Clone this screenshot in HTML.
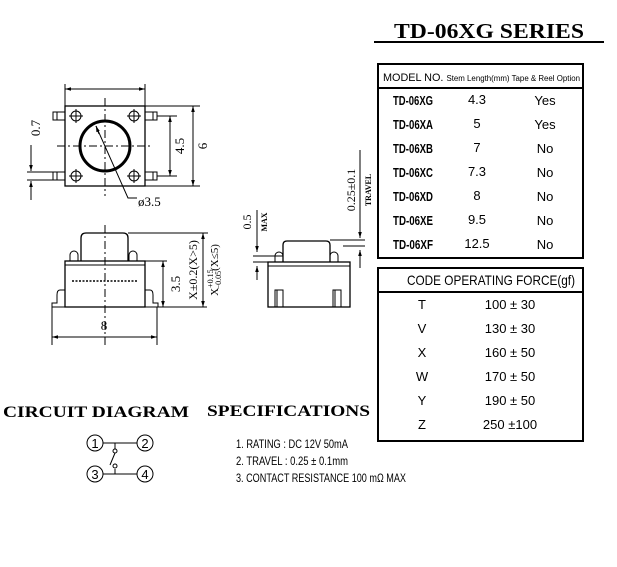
<!DOCTYPE html>
<html><head><meta charset="utf-8"><style>
html,body{margin:0;padding:0;background:#fff}
svg{display:block}
.n{font-family:"Liberation Sans Narrow","Liberation Sans",sans-serif}
.s{font-family:"Liberation Serif",serif;font-weight:bold}
</style></head><body>
<svg width="617" height="567" viewBox="0 0 617 567" xmlns="http://www.w3.org/2000/svg">
<defs><marker id="a" viewBox="0 0 10 10" refX="10" refY="5" markerWidth="6" markerHeight="6" orient="auto-start-reverse"><path d="M0,2 L10,5 L0,8z" fill="#000"/></marker></defs>
<g stroke="#000" fill="none" stroke-width="1.3">
<rect x="65" y="106" width="80" height="80"/>
<circle cx="105" cy="146" r="25" stroke-width="3"/>
<g stroke-width="1">
<circle cx="76" cy="116" r="5"/><circle cx="134" cy="116" r="5"/><circle cx="76" cy="176" r="5"/><circle cx="134" cy="176" r="5"/>
<path d="M69,116h14M76,109v14M127,116h14M134,109v14M69,176h14M76,169v14M127,176h14M134,169v14"/>
<rect x="53" y="112" width="12" height="8"/><rect x="145" y="112" width="12" height="8"/>
<rect x="53" y="172" width="12" height="8"/><rect x="145" y="172" width="12" height="8"/>
<path d="M57,112v8M153,112v8M57,172v8M153,172v8"/>
<path d="M105,98v98M57,146h96" stroke-dasharray="8,3,2,3"/>
<path d="M65,106V84M145,106V84"/>
<path d="M65,89H145" marker-start="url(#a)" marker-end="url(#a)"/>
<path d="M157,116h20M157,176h20M145,106h55M145,186h55"/>
<path d="M170,116V176" marker-start="url(#a)" marker-end="url(#a)"/>
<path d="M193,106V186" marker-start="url(#a)" marker-end="url(#a)"/>
<path d="M31,145V171" marker-end="url(#a)"/><path d="M31,200V181" marker-end="url(#a)"/>
<path d="M27,172h26M27,180h26"/>
<path d="M96,126L128,198h9"/><path d="M96,126l3,8" marker-start="url(#a)"/>
</g>
<rect x="65" y="261" width="80" height="46"/>
<path d="M65,265h80" stroke-width="1"/>
<path d="M81,261V238q0-5 5-5h37q5,0 5,5V261"/>
<path d="M70,261v-6a4,4 0 0 1 8,0v6M129,261v-6a4,4 0 0 1 8,0v6" stroke-width="1"/>
<path d="M65,290h-5q-3,0-3,5v8h-5v4h13M145,290h5q3,0 3,5v8h5v4h-13" stroke-width="1"/>
<path d="M72,281h66" stroke-dasharray="2,1.5" stroke-width="1.5"/>
<path d="M105,225v120" stroke-dasharray="8,3,2,3" stroke-width="1"/>
<g stroke-width="1">
<path d="M52,307v38M157,307v38"/>
<path d="M52,337H157" marker-start="url(#a)" marker-end="url(#a)"/>
<path d="M145,261h22M157,307h50M128,233h80"/>
<path d="M163,261V307" marker-start="url(#a)" marker-end="url(#a)"/>
<path d="M203,233V307" marker-start="url(#a)" marker-end="url(#a)"/>
</g>
<rect x="268" y="262" width="82" height="45"/>
<path d="M268,266h82" stroke-width="1"/>
<path d="M283,262V245q0-4 4-4h39q4,0 4,4V262"/>
<path d="M275,262v-6a4,4 0 0 1 8,0v6M330,262v-6a4,4 0 0 1 8,0v6" stroke-width="1"/>
<rect x="275" y="290" width="8" height="17" stroke-width="1"/><rect x="333" y="290" width="8" height="17" stroke-width="1"/>
<path d="M277,290v17M335,290v17" stroke-width="1"/>
<g stroke-width="1">
<path d="M257,210V252" marker-end="url(#a)"/><path d="M257,280V266" marker-end="url(#a)"/>
<path d="M253,256h30M253,262h15"/>
<path d="M360,150V238" marker-end="url(#a)"/><path d="M360,268V250" marker-end="url(#a)"/>
<path d="M330,240h35M343,246h22"/>
</g>
<rect x="378" y="64" width="205" height="194" stroke-width="2"/>
<path d="M378,88h205" stroke-width="2"/>
<rect x="378" y="268" width="205" height="173" stroke-width="2"/>
<path d="M378,292h205" stroke-width="2"/>
<path d="M374,42h230" stroke-width="2"/>
<g stroke-width="1">
<circle cx="95" cy="443" r="8"/><circle cx="145" cy="443" r="8"/><circle cx="95" cy="474" r="8"/><circle cx="145" cy="474" r="8"/>
<path d="M103,443h34M103,474h34M115,443v6M115,469v5M110,465l5,-12"/>
<circle cx="115" cy="451" r="2"/><circle cx="115" cy="466" r="2"/>
</g>
</g>
<g class="n" font-size="13" text-anchor="middle">
<text x="95" y="448">1</text><text x="145" y="448">2</text><text x="95" y="479">3</text><text x="145" y="479">4</text>
</g>
<g font-family="Liberation Serif,serif" font-size="13" fill="#000">
<text transform="translate(40,128) rotate(-90)" text-anchor="middle">0.7</text>
<text transform="translate(184,146) rotate(-90)" text-anchor="middle">4.5</text>
<text transform="translate(207,146) rotate(-90)" text-anchor="middle">6</text>
<text x="138" y="206">ø3.5</text>
<text x="104" y="330" text-anchor="middle">8</text>
<text transform="translate(180,284) rotate(-90)" text-anchor="middle">3.5</text>
<text transform="translate(197,270) rotate(-90)" text-anchor="middle" font-size="12">X±0.2(X&gt;5)</text>
<text transform="translate(218,270) rotate(-90)" text-anchor="middle" font-size="11">X<tspan font-size="8" dy="-5">+0.15</tspan><tspan font-size="8" dx="-20" dy="8">−0.05</tspan><tspan dy="-3">(X≤5)</tspan></text>
<text transform="translate(251,222) rotate(-90)" text-anchor="middle" font-size="12">0.5</text>
<text transform="translate(267,222) rotate(-90)" text-anchor="middle" font-size="8" font-weight="bold">MAX</text>
<text transform="translate(355,190) rotate(-90)" text-anchor="middle" font-size="12">0.25±0.1</text>
<text transform="translate(371,190) rotate(-90)" text-anchor="middle" font-size="8" font-weight="bold">TRAVEL</text>
</g>
<text x="489" y="38" text-anchor="middle" class="s" font-size="21" textLength="190" lengthAdjust="spacingAndGlyphs">TD-06XG  SERIES</text>
<text x="3" y="417" class="s" font-size="16" textLength="186" lengthAdjust="spacingAndGlyphs">CIRCUIT  DIAGRAM</text>
<text x="207" y="416" class="s" font-size="16" textLength="163" lengthAdjust="spacingAndGlyphs">SPECIFICATIONS</text>
<g class="n" font-size="12" fill="#000">
<text x="236" y="448" textLength="112" lengthAdjust="spacingAndGlyphs">1. RATING : DC 12V  50mA</text>
<text x="236" y="465" textLength="112" lengthAdjust="spacingAndGlyphs">2. TRAVEL :  0.25 ± 0.1mm</text>
<text x="236" y="482" textLength="170" lengthAdjust="spacingAndGlyphs">3. CONTACT  RESISTANCE 100 mΩ MAX</text>
</g>
<g class="n" fill="#000">
<text x="383" y="81" font-size="11" textLength="197" lengthAdjust="spacingAndGlyphs">MODEL NO. <tspan font-size="8">Stem Length(mm) Tape &amp; Reel Option</tspan></text>
<g font-size="13">
<g font-weight="bold">
<text x="393" y="105" textLength="40" lengthAdjust="spacingAndGlyphs">TD-06XG</text><text x="393" y="129" textLength="40" lengthAdjust="spacingAndGlyphs">TD-06XA</text><text x="393" y="153" textLength="40" lengthAdjust="spacingAndGlyphs">TD-06XB</text><text x="393" y="177" textLength="40" lengthAdjust="spacingAndGlyphs">TD-06XC</text><text x="393" y="201" textLength="40" lengthAdjust="spacingAndGlyphs">TD-06XD</text><text x="393" y="225" textLength="40" lengthAdjust="spacingAndGlyphs">TD-06XE</text><text x="393" y="249" textLength="40" lengthAdjust="spacingAndGlyphs">TD-06XF</text>
</g>
<g text-anchor="middle">
<text x="477" y="104">4.3</text><text x="477" y="128">5</text><text x="477" y="152">7</text><text x="477" y="176">7.3</text><text x="477" y="200">8</text><text x="477" y="224">9.5</text><text x="477" y="248">12.5</text>
<text x="545" y="105">Yes</text><text x="545" y="129">Yes</text><text x="545" y="153">No</text><text x="545" y="177">No</text><text x="545" y="201">No</text><text x="545" y="225">No</text><text x="545" y="249">No</text>
</g>
<text x="407" y="285" font-size="14" textLength="168" lengthAdjust="spacingAndGlyphs">CODE  OPERATING FORCE(gf)</text>
<g text-anchor="middle">
<text x="422" y="309">T</text><text x="422" y="333">V</text><text x="422" y="357">X</text><text x="422" y="381">W</text><text x="422" y="405">Y</text><text x="422" y="429">Z</text>
<text x="510" y="309">100 ± 30</text><text x="510" y="333">130 ± 30</text><text x="510" y="357">160 ± 50</text><text x="510" y="381">170 ± 50</text><text x="510" y="405">190 ± 50</text><text x="510" y="429">250 ±100</text>
</g>
</g>
</g>
</svg>
</body></html>
